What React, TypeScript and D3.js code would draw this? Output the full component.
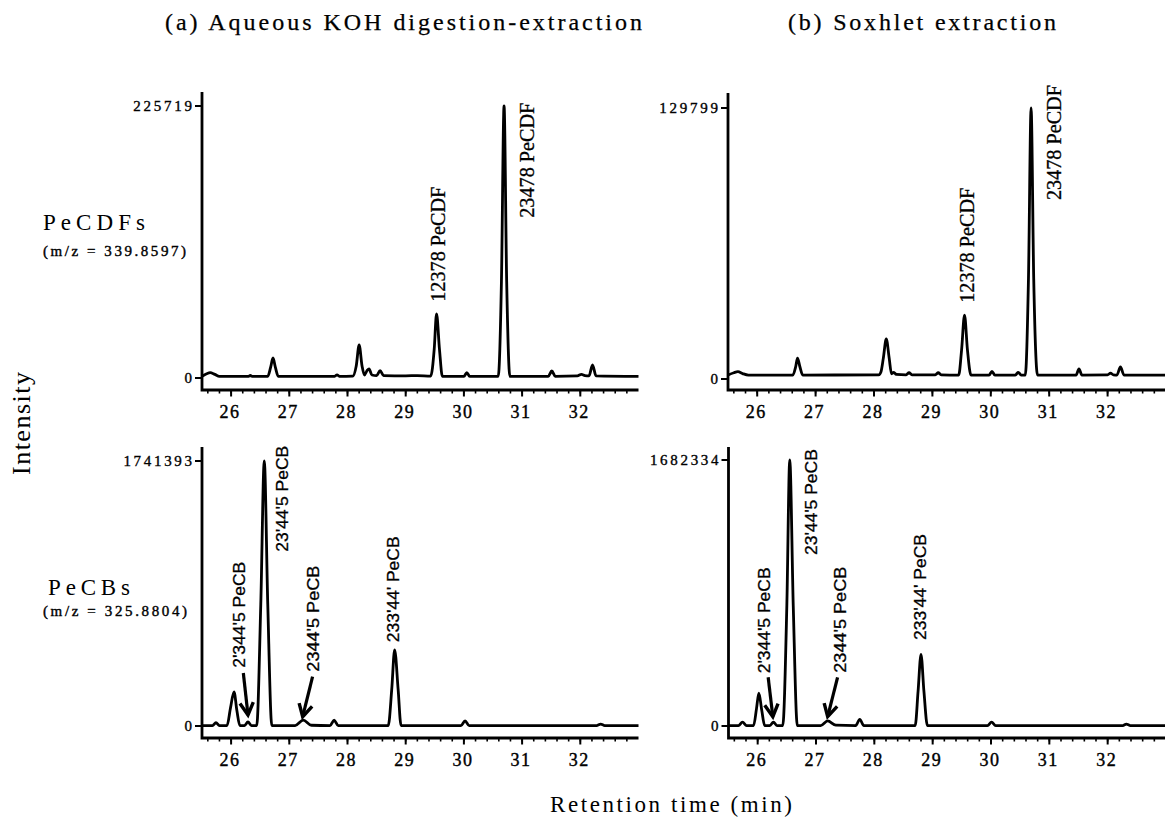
import { useEffect, useRef } from "react";
import * as d3 from "d3";

// retention time ticks (min)
const rtTicks = [26, 27, 28, 29, 30, 31, 32];

// chromatogram traces: [retention time, intensity]
const kohPecdf = [
  [25.5, 1400], [25.58, 3500], [25.64, 4400], [25.72, 3000], [25.8, 1400],
  [26.3, 1400], [26.33, 2200], [26.36, 1400],
  [26.63, 1400], [26.68, 9000], [26.72, 16600], [26.76, 9000], [26.81, 1400],
  [27.78, 1400], [27.82, 2600], [27.86, 1400],
  [28.09, 1600], [28.15, 10000], [28.2, 27400], [28.25, 10000], [28.29, 2500], [28.34, 6500], [28.37, 7500], [28.42, 2500],
  [28.5, 2000], [28.56, 6000], [28.62, 2000],
  [29.0, 1800], [29.2, 2000],
  [29.43, 1600], [29.49, 24000], [29.53, 53100], [29.58, 24000], [29.63, 1400],
  [30.0, 1400], [30.05, 4400], [30.1, 1400],
  [30.59, 1400], [30.645, 80000], [30.69, 225719], [30.735, 80000], [30.79, 1400],
  [31.45, 1400], [31.51, 5800], [31.57, 1400],
  [31.95, 1800], [32.02, 3000], [32.08, 2000],
  [32.15, 1800], [32.21, 10800], [32.27, 1800],
  [33.0, 1400]
];

const soxPecdf = [
  [25.5, 1900], [25.6, 3000], [25.67, 3500], [25.75, 2600], [25.85, 1900],
  [26.61, 1900], [26.66, 6000], [26.69, 10000], [26.73, 6000], [26.78, 1900],
  [28.08, 2000], [28.12, 3500], [28.16, 10000], [28.21, 19200], [28.26, 10000], [28.3, 2500], [28.34, 3200], [28.38, 2200],
  [28.55, 2000], [28.6, 3000], [28.65, 2000],
  [29.05, 2000], [29.1, 3000], [29.15, 2000],
  [29.45, 1900], [29.5, 14000], [29.55, 30600], [29.6, 14000], [29.66, 1900],
  [29.97, 1900], [30.02, 3600], [30.07, 1900],
  [30.42, 1900], [30.47, 3200], [30.52, 1900],
  [30.59, 1900], [30.645, 48000], [30.69, 129799], [30.735, 48000], [30.8, 1900],
  [31.46, 1900], [31.51, 4800], [31.56, 1900],
  [32.0, 2000], [32.05, 2800], [32.1, 2000],
  [32.16, 1900], [32.22, 5800], [32.28, 1900],
  [33.0, 1900]
];

const kohPecb = [
  [25.5, 3000], [25.68, 3000], [25.74, 22000], [25.8, 3000],
  [25.93, 3000], [25.99, 120000], [26.05, 224000], [26.1, 100000], [26.15, 3000],
  [26.23, 3000], [26.29, 27000], [26.35, 3000],
  [26.44, 3000], [26.51, 800000], [26.57, 1741393], [26.63, 800000], [26.7, 3000],
  [27.1, 3000], [27.24, 39000], [27.38, 5000],
  [27.7, 3000], [27.77, 39000], [27.84, 3000],
  [28.7, 3000], [28.76, 240000], [28.81, 500000], [28.87, 240000], [28.92, 3000],
  [29.95, 3000], [30.02, 33000], [30.09, 3000],
  [32.28, 3000], [32.35, 12000], [32.42, 3000],
  [33.0, 3000]
];

const soxPecb = [
  [25.5, 3000], [25.67, 3000], [25.74, 25000], [25.81, 3000],
  [25.93, 3000], [25.98, 110000], [26.02, 207000], [26.07, 100000], [26.12, 3000],
  [26.21, 3000], [26.27, 25000], [26.33, 3000],
  [26.43, 3000], [26.5, 760000], [26.55, 1682334], [26.61, 760000], [26.68, 3000],
  [27.08, 3000], [27.2, 32000], [27.34, 5000],
  [27.68, 3000], [27.75, 42000], [27.82, 3000],
  [28.7, 3000], [28.75, 220000], [28.8, 453000], [28.85, 220000], [28.91, 3000],
  [29.94, 3000], [30.01, 25000], [30.08, 3000],
  [32.26, 3000], [32.32, 12000], [32.39, 3000],
  [33.0, 3000]
];

// full-scale intensity of each panel
const maxIntensity = [225719, 129799, 1741393, 1682334];

// peak names: [text, retention time, intensity at start of text]
const kohPecdfLabels = [["12378 PeCDF", 29.56, 63300], ["23478 PeCDF", 31.09, 133000]];
const soxPecdfLabels = [["12378 PeCDF", 29.6, 36500], ["23478 PeCDF", 31.09, 85700]];
const kohPecbLabels = [
  ["2'344'5 PeCB", 26.14, 383000], ["23'44'5 PeCB", 26.87, 1145000],
  ["2344'5 PeCB", 27.41, 357000], ["233'44' PeCB", 28.78, 550000]
];
const soxPecbLabels = [
  ["2'344'5 PeCB", 26.11, 333000], ["23'44'5 PeCB", 26.91, 1081000],
  ["2344'5 PeCB", 27.41, 337000], ["233'44' PeCB", 28.78, 544000]
];

// arrows: [from rt, from intensity, to rt, to intensity]
const kohPecbArrows = [[26.21, 348000, 26.29, 72000], [27.4, 324000, 27.23, 61000]];
const soxPecbArrows = [[26.18, 308000, 26.26, 59000], [27.37, 308000, 27.2, 59000]];

const SERIF = "'Liberation Serif', 'DejaVu Serif', serif";
const SANS = "'Liberation Sans', Arial, sans-serif";

const App = () => {
  const ref = useRef(null);

  useEffect(() => {
    const svg = d3.select(ref.current);
    svg.selectAll("*").remove();

    // pixel layout of the four panels
    const panels = [
      { trace: kohPecdf, max: maxIntensity[0], labels: kohPecdfLabels, arrows: [], serif: true,
        left: 202, right: 638.5, top: 92, maxY: 106, zeroY: 378, axisY: 390 },
      { trace: soxPecdf, max: maxIntensity[1], labels: soxPecdfLabels, arrows: [], serif: true,
        left: 728, right: 1166, top: 93, maxY: 108, zeroY: 379, axisY: 390 },
      { trace: kohPecb, max: maxIntensity[2], labels: kohPecbLabels, arrows: kohPecbArrows, serif: false,
        left: 202, right: 638.5, top: 447, maxY: 461, zeroY: 726, axisY: 738 },
      { trace: soxPecb, max: maxIntensity[3], labels: soxPecbLabels, arrows: soxPecbArrows, serif: false,
        left: 728.5, right: 1166, top: 447, maxY: 460, zeroY: 726, axisY: 738 }
    ];

    panels.forEach((p) => {
      const x = d3.scaleLinear().domain([25.5, 33.0]).range([p.left, p.right]);
      const y = d3.scaleLinear().domain([0, p.max]).range([p.zeroY, p.maxY]);
      const g = svg.append("g");

      // axes frame
      g.append("path")
        .attr("d", `M${p.left},${p.top}V${p.axisY}H${p.right}`)
        .attr("fill", "none")
        .attr("stroke", "#000")
        .attr("stroke-width", 2.8);

      // y ticks and labels
      [p.max, 0].forEach((v) => {
        g.append("line")
          .attr("x1", p.left - 7).attr("x2", p.left)
          .attr("y1", y(v)).attr("y2", y(v))
          .attr("stroke", "#000").attr("stroke-width", 2);
        const t = g.append("text")
          .attr("x", p.left - 10).attr("y", y(v)).attr("dy", "0.35em")
          .attr("text-anchor", "end")
          .attr("stroke", "#000").attr("stroke-width", 0.35)
          .style("font-family", SERIF).style("font-size", "15px")
          .text(String(v));
        if (v !== 0) t.attr("textLength", String(v).length * 9.8).attr("lengthAdjust", "spacing");
      });

      // x ticks
      g.selectAll(".minor").data(x.ticks(38).filter((d) => d > 25.55 && d < 32.95)).enter()
        .append("line")
        .attr("x1", (d) => x(d)).attr("x2", (d) => x(d))
        .attr("y1", p.axisY).attr("y2", p.axisY + 3.5)
        .attr("stroke", "#000").attr("stroke-width", 1.6);
      g.selectAll(".major").data(rtTicks).enter()
        .append("line")
        .attr("x1", (d) => x(d)).attr("x2", (d) => x(d))
        .attr("y1", p.axisY).attr("y2", p.axisY + 6.5)
        .attr("stroke", "#000").attr("stroke-width", 2);
      g.selectAll(".xlab").data(rtTicks).enter()
        .append("text")
        .attr("x", (d) => x(d) - 1).attr("y", p.axisY + 28)
        .attr("text-anchor", "middle")
        .attr("stroke", "#000").attr("stroke-width", 0.4)
        .style("font-family", SERIF).style("font-size", "18px")
        .style("letter-spacing", "1.5px")
        .text((d) => d);

      // chromatogram
      const line = d3.line().x((d) => x(d[0])).y((d) => y(d[1])).curve(d3.curveMonotoneX);
      g.append("path")
        .attr("d", line(p.trace))
        .attr("fill", "none")
        .attr("stroke", "#000")
        .attr("stroke-width", 2.8)
        .attr("stroke-linejoin", "round");

      // peak names
      p.labels.forEach(([txt, rt, v]) => {
        g.append("text")
          .attr("transform", `translate(${x(rt)},${y(v)}) rotate(-90)`)
          .attr("dy", "0.35em")
          .attr("textLength", p.serif ? 115 : 106)
          .attr("lengthAdjust", "spacingAndGlyphs")
          .attr("stroke", "#000").attr("stroke-width", 0.3)
          .style("font-family", p.serif ? SERIF : SANS)
          .style("font-size", p.serif ? "20px" : "17px")
          .text(txt);
      });

      // arrows
      p.arrows.forEach(([r0, v0, r1, v1]) => {
        const x0 = x(r0), y0 = y(v0), x1 = x(r1), y1 = y(v1);
        const ang = Math.atan2(y1 - y0, x1 - x0);
        const len = 14, spread = 0.5;
        g.append("line")
          .attr("x1", x0).attr("y1", y0).attr("x2", x1).attr("y2", y1)
          .attr("stroke", "#000").attr("stroke-width", 3.2);
        g.append("polyline")
          .attr("points", [
            [x1 - len * Math.cos(ang - spread), y1 - len * Math.sin(ang - spread)],
            [x1, y1],
            [x1 - len * Math.cos(ang + spread), y1 - len * Math.sin(ang + spread)]
          ].map((q) => q.join(",")).join(" "))
          .attr("fill", "none")
          .attr("stroke", "#000")
          .attr("stroke-width", 3.4)
          .attr("stroke-linejoin", "miter");
      });
    });

    // panel titles
    svg.append("text").attr("x", 165).attr("y", 29.5)
      .attr("textLength", 477).attr("lengthAdjust", "spacing")
      .attr("stroke", "#000").attr("stroke-width", 0.25)
      .style("font-family", SERIF).style("font-size", "24px")
      .text("(a) Aqueous KOH digestion-extraction");
    svg.append("text").attr("x", 788).attr("y", 29.5)
      .attr("textLength", 268).attr("lengthAdjust", "spacing")
      .attr("stroke", "#000").attr("stroke-width", 0.25)
      .style("font-family", SERIF).style("font-size", "24px")
      .text("(b) Soxhlet extraction");

    // row labels
    svg.append("text").attr("x", 43).attr("y", 230)
      .attr("textLength", 102).attr("lengthAdjust", "spacing")
      .style("font-family", SERIF).style("font-size", "23px").text("PeCDFs");
    svg.append("text").attr("x", 43).attr("y", 255.5)
      .attr("textLength", 143).attr("lengthAdjust", "spacing")
      .attr("stroke", "#000").attr("stroke-width", 0.4)
      .style("font-family", SERIF).style("font-size", "15px").text("(m/z = 339.8597)");
    svg.append("text").attr("x", 48).attr("y", 595)
      .attr("textLength", 82).attr("lengthAdjust", "spacing")
      .style("font-family", SERIF).style("font-size", "23px").text("PeCBs");
    svg.append("text").attr("x", 43).attr("y", 616)
      .attr("textLength", 144).attr("lengthAdjust", "spacing")
      .attr("stroke", "#000").attr("stroke-width", 0.4)
      .style("font-family", SERIF).style("font-size", "15px").text("(m/z = 325.8804)");

    // axis titles
    svg.append("text")
      .attr("transform", "translate(30,475) rotate(-90)")
      .attr("textLength", 103).attr("lengthAdjust", "spacing")
      .style("font-family", SERIF).style("font-size", "26px")
      .text("Intensity");
    svg.append("text").attr("x", 550).attr("y", 811.5)
      .attr("textLength", 242).attr("lengthAdjust", "spacing")
      .style("font-family", SERIF).style("font-size", "23px")
      .text("Retention time (min)");
  }, []);

  return (
    <svg ref={ref} width={1165} height={820}
      style={{ position: "absolute", left: 0, top: 0, background: "#fff" }} />
  );
};

export default App;
